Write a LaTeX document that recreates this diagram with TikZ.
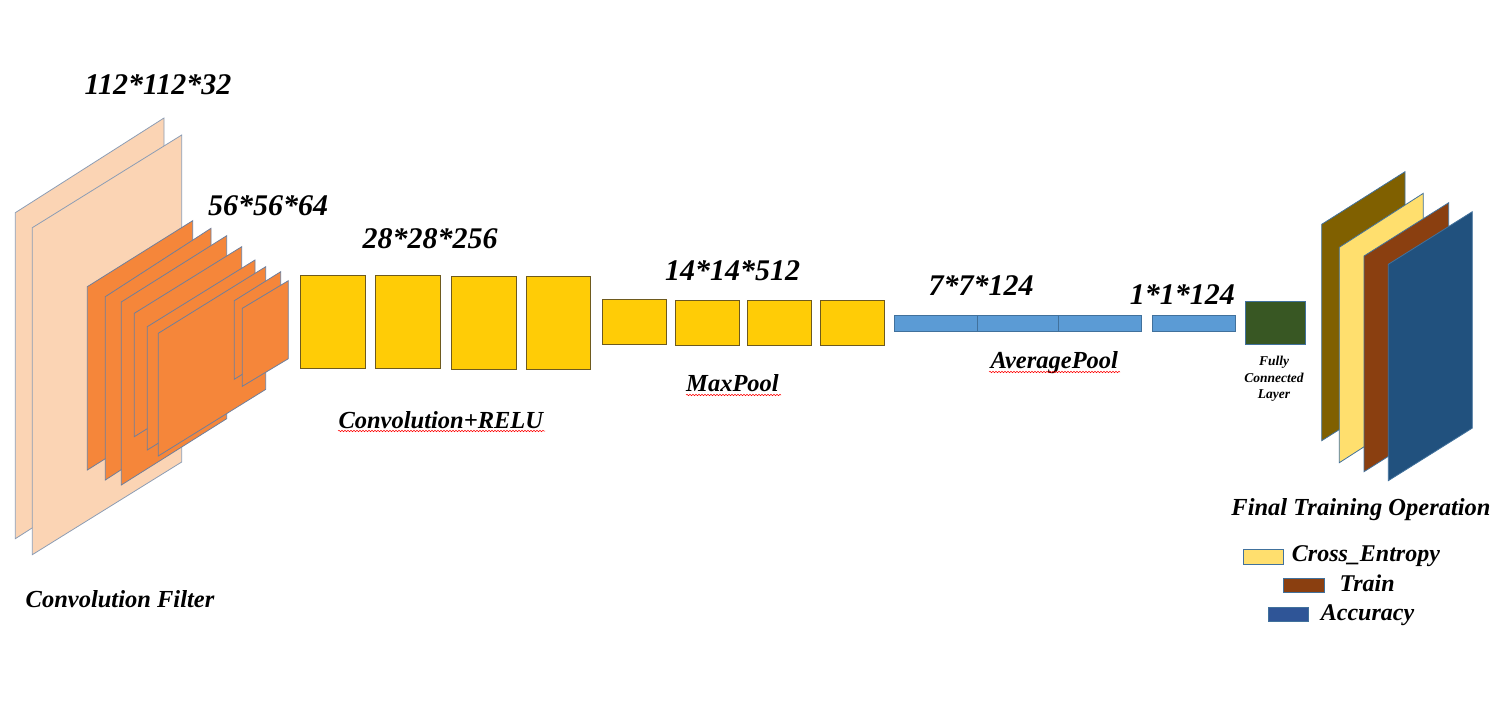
\documentclass[tikz,border=0pt]{standalone}
\usepackage{fontspec}
\setmainfont{Liberation Serif}
\usetikzlibrary{decorations.pathmorphing}
\definecolor{peach}{HTML}{FBD4B4}
\definecolor{peachline}{HTML}{8C9DB5}
\definecolor{orng}{HTML}{F5863A}
\definecolor{orngline}{HTML}{6F7F9C}
\definecolor{ylw}{HTML}{FFCC06}
\definecolor{ylwline}{HTML}{6E5A1E}
\definecolor{bluebar}{HTML}{5B9BD5}
\definecolor{blueline}{HTML}{41719C}
\definecolor{fcgreen}{HTML}{385723}
\definecolor{olive}{HTML}{806000}
\definecolor{lyellow}{HTML}{FFDF6E}
\definecolor{rbrown}{HTML}{8A3F10}
\definecolor{dblue}{HTML}{21517E}
\definecolor{lgblue}{HTML}{2F5597}
\newcommand\slab[6]{\draw[#6] (#1,#2) -- (#3,#4) -- (#3,{#4+#5}) -- (#1,{#2+#5}) -- cycle;}
\tikzset{
  lbl/.style={font=\fontsize{24.5}{28}\selectfont\bfseries\itshape, inner sep=0pt, anchor=base},
  num/.style={font=\fontsize{30}{34}\selectfont\bfseries\itshape, inner sep=0pt, anchor=base},
  leg/.style={font=\fontsize{24}{28}\selectfont\bfseries\itshape, inner sep=0pt, anchor=base west},
  small/.style={font=\fontsize{13.5}{16.3}\selectfont\bfseries\itshape, inner sep=0pt, align=center},
  peachp/.style={fill=peach, draw=peachline, line width=0.8pt},
  orngp/.style={fill=orng, draw=orngline, line width=0.8pt},
  ybox/.style={fill=ylw, draw=ylwline, line width=0.9pt},
  bbox/.style={fill=bluebar, draw=blueline, line width=0.9pt},
  finalp/.style={draw=blueline, line width=0.8pt},
  spell/.style={red, line width=0.5pt, decorate, decoration={snake, amplitude=0.7pt, segment length=3pt}},
}
\begin{document}
\begin{tikzpicture}[x=1pt,y=-1pt]
\useasboundingbox (0,0) rectangle (1505,717);
% --- convolution filter planes
\slab{15.3}{212.7}{164}{118}{326}{peachp}
\slab{32.3}{227.7}{181.7}{135}{327}{peachp}
\slab{87.3}{286.7}{192.7}{220.7}{183.3}{orngp}
\slab{105.3}{296.7}{211}{228.3}{183.3}{orngp}
\slab{121.3}{302}{226.7}{235.7}{183}{orngp}
\slab{134.3}{313.3}{241.7}{246.7}{123.4}{orngp}
\slab{147.3}{326.7}{255}{260}{123.3}{orngp}
\slab{158.3}{333.3}{265.7}{266.7}{122.7}{orngp}
\slab{234.3}{300.7}{280.7}{271.7}{78.6}{orngp}
\slab{242.3}{308.3}{288.3}{280.7}{78}{orngp}
% --- convolution + relu
\draw[ybox] (300.3,275) rectangle (365.7,368.3);
\draw[ybox] (375.3,275) rectangle (440.7,368.3);
\draw[ybox] (451,276.3) rectangle (516,369.3);
\draw[ybox] (526.3,276.3) rectangle (590.7,369.3);
% --- maxpool
\draw[ybox] (602.3,299.3) rectangle (666.7,344.3);
\draw[ybox] (675.3,300.3) rectangle (739.3,345.3);
\draw[ybox] (747.3,300.3) rectangle (811.7,345.3);
\draw[ybox] (820.3,300.3) rectangle (884.7,345.3);
% --- average pool
\draw[bbox] (894.3,315.3) rectangle (977.3,331.3);
\draw[bbox] (977.3,315.3) rectangle (1058.7,331.3);
\draw[bbox] (1058.7,315.3) rectangle (1141.7,331.3);
\draw[bbox] (1152.3,315.3) rectangle (1235.7,331.3);
% --- fully connected
\draw[fill=fcgreen, draw=blueline, line width=0.9pt] (1245.3,301.7) rectangle (1305.3,344);
% --- final planes
\slab{1321.7}{224.3}{1405}{171.7}{216.4}{finalp, fill=olive}
\slab{1339.3}{247.3}{1423.3}{193.3}{215.4}{finalp, fill=lyellow}
\slab{1364}{256}{1448.7}{202.7}{215.7}{finalp, fill=rbrown}
\slab{1388.3}{264.3}{1472.3}{211.7}{216.4}{finalp, fill=dblue}
% --- labels
\node[num] (n1) at (158,94) {112*112*32};
\node[num] (n2) at (268,215) {56*56*64};
\node[num] (n3) at (430,248.3) {28*28*256};
\node[num] (n4) at (732.7,280) {14*14*512};
\node[num] (n5) at (981,295) {7*7*124};
\node[num] (n6) at (1182.3,304) {1*1*124};
\node[lbl] (t1) at (120,607) {Convolution Filter};
\node[lbl] (t2) at (440.8,428) {Convolution+RELU};
\node[lbl] (t3) at (732.5,391.7) {MaxPool};
\node[lbl] (t4) at (1054.3,368.3) {AveragePool};
\node[lbl] (t5) at (1361,515) {Final Training Operation};
\node[small, anchor=base] (fc) at (1274,398.5) {Fully\\Connected\\Layer};
\draw[spell] (338,431) -- (545,431);
\draw[spell] (686,395) -- (781,395);
\draw[spell] (989,372) -- (1120,372);
% --- legend
\draw[fill=lyellow, draw=blueline, line width=0.9pt] (1243.3,549.3) rectangle (1283.3,564);
\node[leg] (l1) at (1291.7,561.7) {Cross\_Entropy};
\draw[fill=rbrown, draw=blueline, line width=0.9pt] (1283.3,578.3) rectangle (1324.3,592.3);
\node[leg] (l2) at (1339.3,591.7) {Train};
\draw[fill=lgblue, draw=blueline, line width=0.9pt] (1268.3,607.7) rectangle (1308.3,621.7);
\node[leg] (l3) at (1320.7,620) {Accuracy};
\end{tikzpicture}
\end{document}
